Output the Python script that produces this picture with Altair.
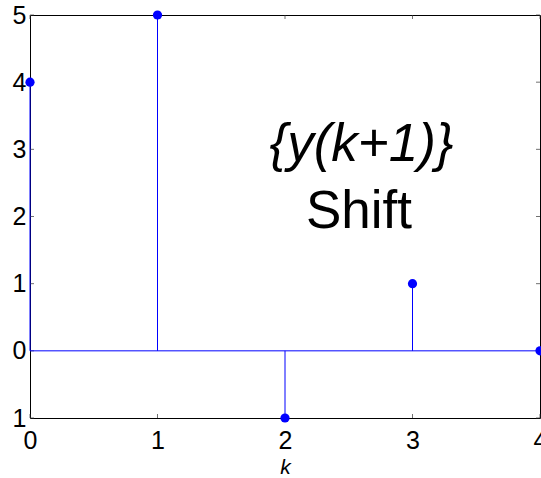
import altair as alt
import pandas as pd

# Shifted sequence y(k+1)
k_values = [0, 1, 2, 3, 4]
y_values = [4, 5, -1, 1, 0]

x_ticks = [0, 1, 2, 3, 4]
y_ticks = [-1, 0, 1, 2, 3, 4, 5]

FONT = "Liberation Sans"
BLUE = "#0000ff"
W, H = 510, 403

seq = pd.DataFrame({"k": k_values, "y": y_values, "zero": [0] * len(k_values)})
xt = pd.DataFrame({"t": x_ticks})
yt = pd.DataFrame({"t": y_ticks})

x_scale = alt.Scale(domain=[0, 4], nice=False, zero=False)
y_scale = alt.Scale(domain=[-1, 5], nice=False, zero=False)

x_axis = alt.Axis(
    values=x_ticks, format="d", ticks=False, domain=False, grid=False,
    labelFont=FONT, labelFontSize=25, labelColor="black", labelPadding=10,
    labelFlush=False, labelAngle=0,
    title="k", titleFont=FONT, titleFontSize=21, titleFontStyle="italic",
    titleFontWeight="normal", titleColor="black",
    titleY=55, titleBaseline="alphabetic",
)
y_axis = alt.Axis(
    values=y_ticks, ticks=False, domain=False, grid=False,
    labelFont=FONT, labelFontSize=25, labelColor="black", labelPadding=4,
    labelFlush=False, labelExpr="abs(datum.value)", title=None,
)

base = alt.Chart(seq)

stems = base.mark_rule(color=BLUE, strokeWidth=1).encode(
    x=alt.X("k:Q", scale=x_scale, axis=x_axis),
    y=alt.Y("zero:Q", scale=y_scale, axis=y_axis),
    y2="y:Q",
)

baseline = alt.Chart(pd.DataFrame({"a": [0], "b": [4], "z": [0]})).mark_rule(
    color=BLUE, strokeWidth=1
).encode(
    x=alt.X("a:Q", scale=x_scale),
    x2="b:Q",
    y=alt.Y("z:Q", scale=y_scale),
)

dots = base.mark_circle(color=BLUE, opacity=1, size=85).encode(
    x=alt.X("k:Q", scale=x_scale),
    y=alt.Y("y:Q", scale=y_scale),
)

# inward tick marks on all four sides of the box
tick_style = dict(color="#333333", thickness=1, size=4)
bottom_ticks = alt.Chart(xt).mark_tick(orient="vertical", yOffset=-2, **tick_style).encode(
    x=alt.X("t:Q", scale=x_scale), y=alt.datum(-1, scale=y_scale)
)
top_ticks = alt.Chart(xt).mark_tick(orient="vertical", yOffset=2, **tick_style).encode(
    x=alt.X("t:Q", scale=x_scale), y=alt.datum(5, scale=y_scale)
)
left_ticks = alt.Chart(yt).mark_tick(orient="horizontal", xOffset=2, **tick_style).encode(
    y=alt.Y("t:Q", scale=y_scale), x=alt.datum(0, scale=x_scale)
)
right_ticks = alt.Chart(yt).mark_tick(orient="horizontal", xOffset=-2, **tick_style).encode(
    y=alt.Y("t:Q", scale=y_scale), x=alt.datum(4, scale=x_scale)
)

label_top = alt.Chart(pd.DataFrame({"s": ["{y(k+1)}"]})).mark_text(
    font=FONT, fontSize=53, fontStyle="italic", color="black",
    align="center", baseline="alphabetic",
).encode(x=alt.datum(2.6, scale=x_scale), y=alt.datum(2.82, scale=y_scale), text="s:N")

label_bottom = alt.Chart(pd.DataFrame({"s": ["Shift"]})).mark_text(
    font=FONT, fontSize=53, color="black",
    align="center", baseline="alphabetic",
).encode(x=alt.datum(2.58, scale=x_scale), y=alt.datum(1.83, scale=y_scale), text="s:N")

chart = alt.layer(
    bottom_ticks, top_ticks, left_ticks, right_ticks,
    baseline, stems, dots, label_top, label_bottom,
).properties(
    width=W, height=H,
    autosize=alt.AutoSizeParams(type="none"),
    padding={"left": 30, "top": 15, "right": 1, "bottom": 60},
    background="white",
).configure_view(stroke="black", strokeWidth=1)

chart.save("out.html", embed_options={"renderer": "svg", "actions": False})
